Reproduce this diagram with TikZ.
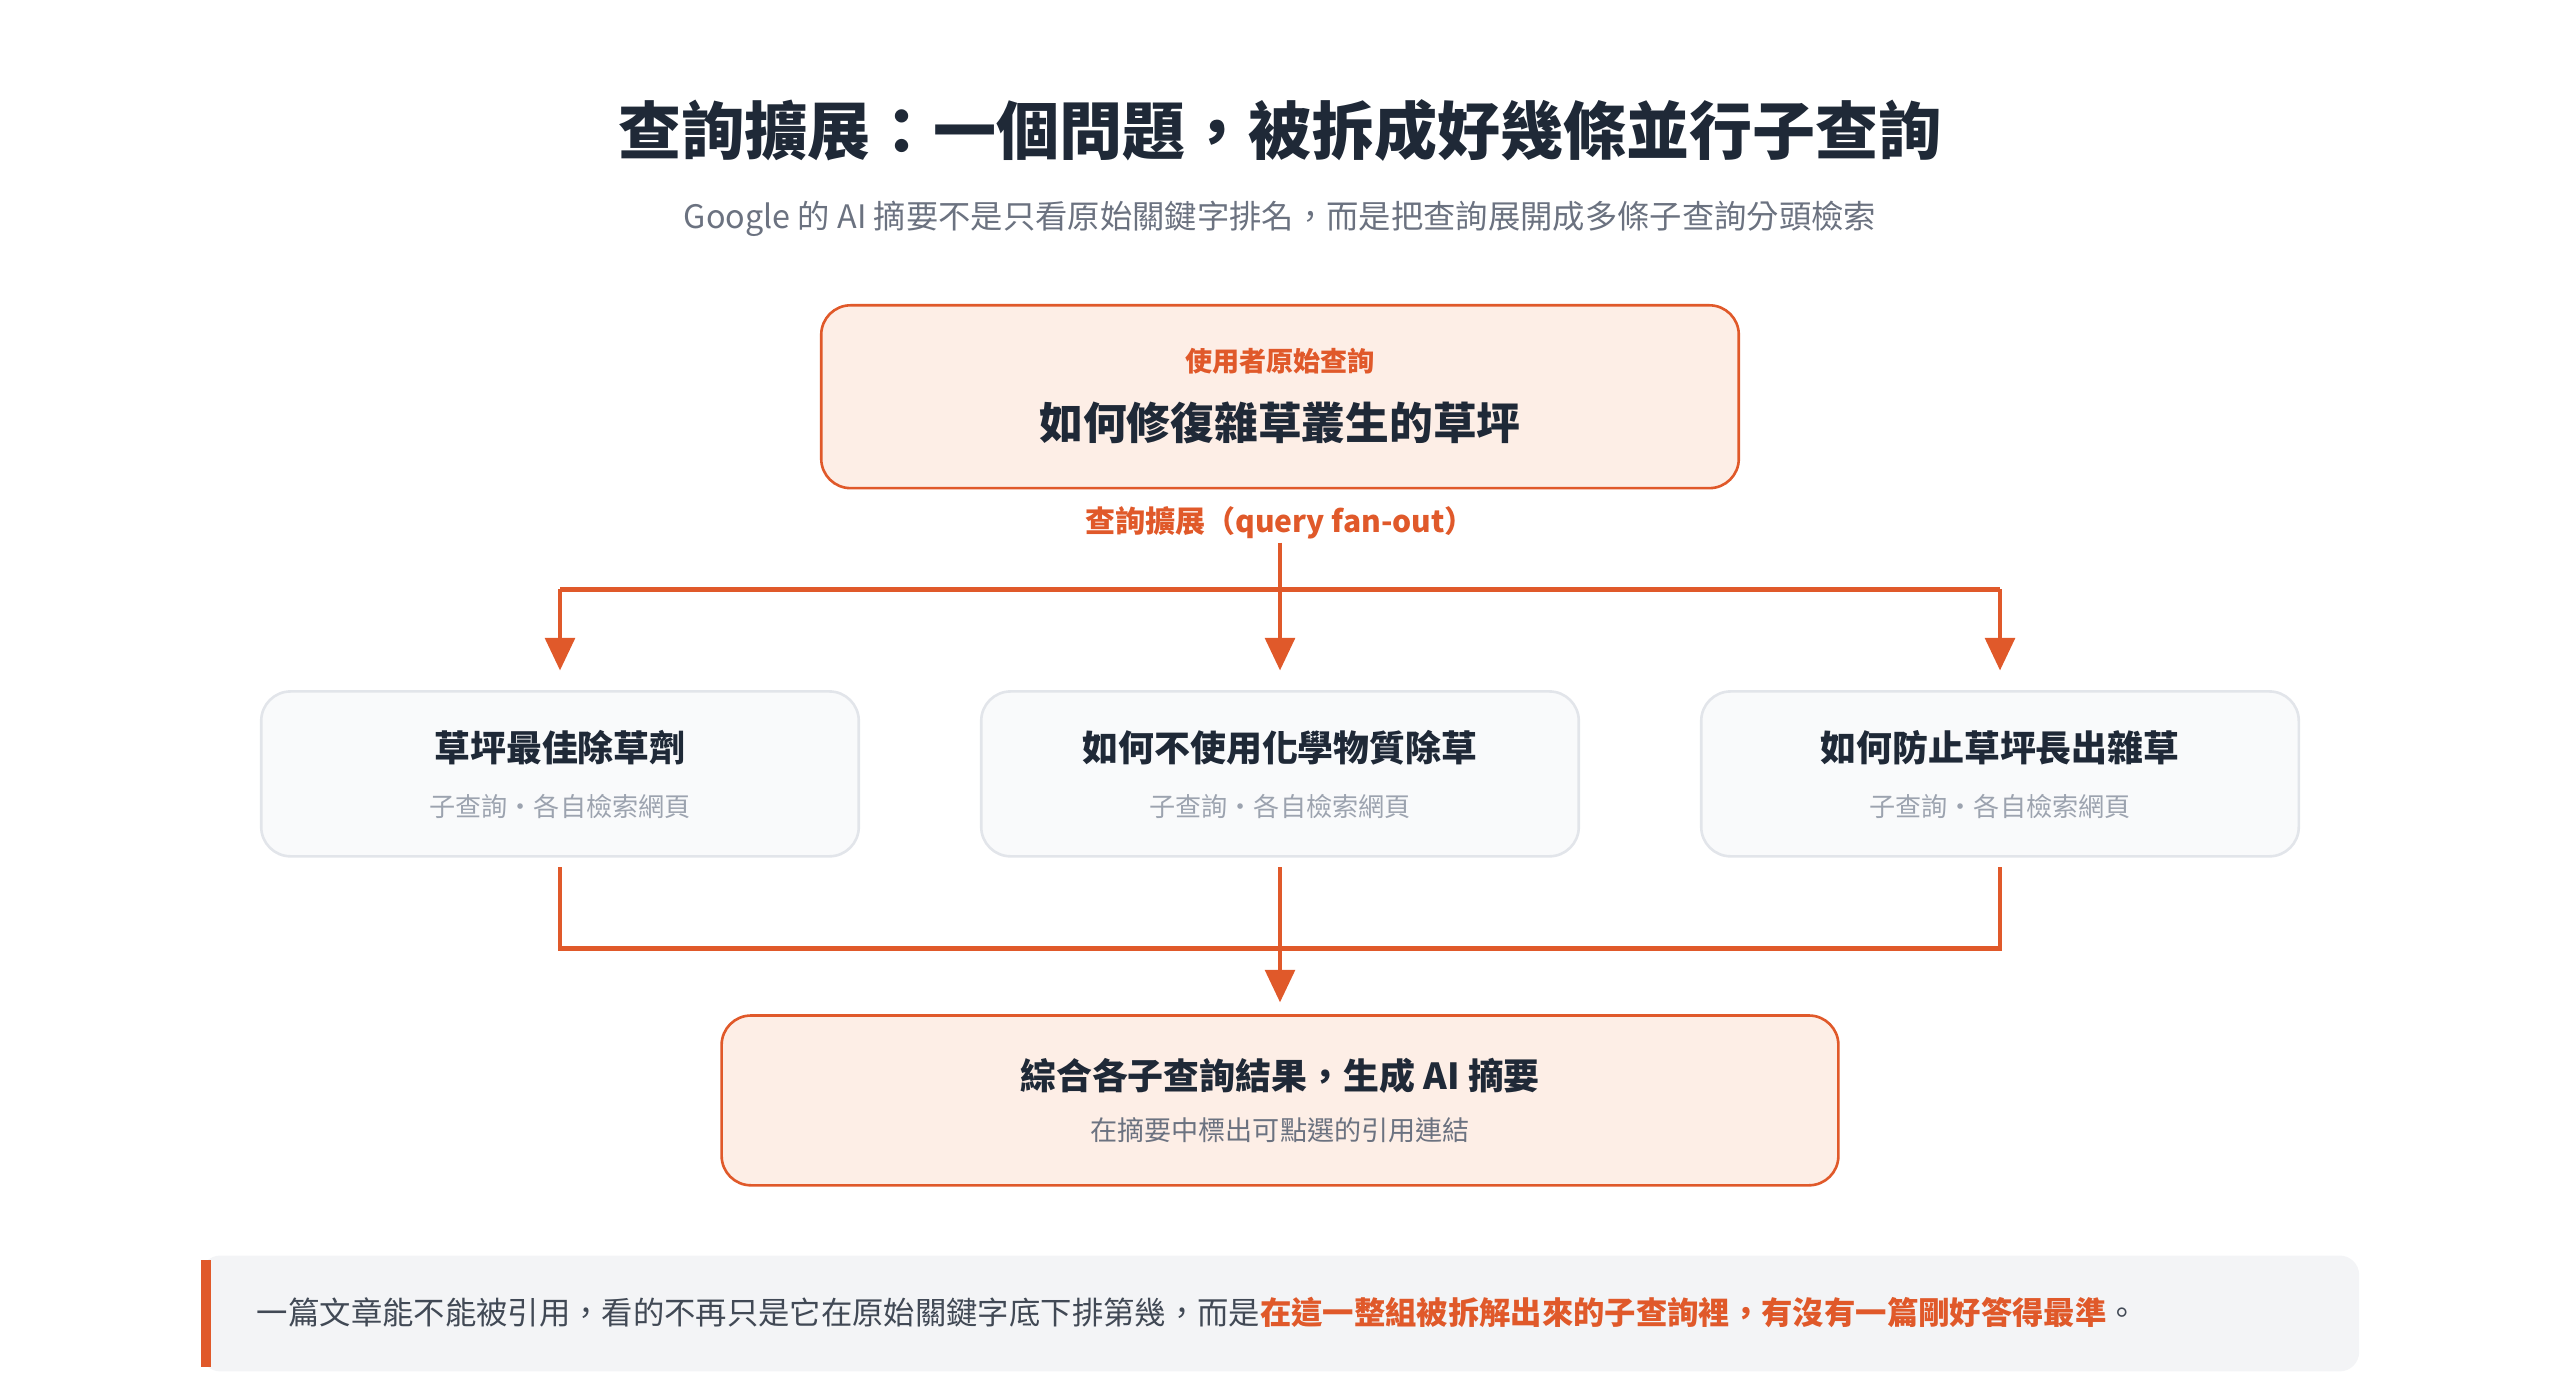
\documentclass[tikz,border=0pt]{standalone}
\usepackage{fontspec}
\setmainfont{Noto Sans CJK TC}
\usetikzlibrary{arrows.meta,positioning}
\definecolor{ink}{HTML}{1F2937}
\definecolor{mute}{HTML}{6B7280}
\definecolor{faint}{HTML}{9CA3AF}
\definecolor{accent}{HTML}{E0592A}
\definecolor{peach}{HTML}{FDEEE6}
\definecolor{card}{HTML}{F9FAFB}
\definecolor{cardline}{HTML}{E2E5EA}
\definecolor{note}{HTML}{F3F4F6}
\tikzset{
  hot/.style={draw=accent,fill=peach,line width=0.8pt,rounded corners=9pt},
  sub/.style={draw=cardline,fill=card,line width=0.8pt,rounded corners=9pt,minimum width=183pt,minimum height=50.5pt},
  flow/.style={accent,line width=1.5pt},
  tip/.style={flow,-{Triangle[length=10pt,width=9pt]}},
}
\begin{document}
\begin{tikzpicture}[x=0.5pt,y=0.5pt,yscale=-1]
\useasboundingbox (0,0) rectangle (1568,855);

% heading
\node (title) at (784,80) {\fontsize{19.3pt}{21pt}\selectfont\bfseries\color{ink}查詢擴展：一個問題，被拆成好幾條並行子查詢};
\node (lead) at (784,134) {\fontsize{9.9pt}{11pt}\selectfont\color{mute}Google 的 AI 摘要不是只看原始關鍵字排名，而是把查詢展開成多條子查詢分頭檢索};

% original query
\draw[hot] (503,187) rectangle (1065,299);
\node (qtag) at (784,221) {\fontsize{8.3pt}{9pt}\selectfont\bfseries\color{accent}使用者原始查詢};
\node (query) at (784,259) {\fontsize{13.4pt}{15pt}\selectfont\bfseries\color{ink}如何修復雜草叢生的草坪};
\node[inner sep=1pt] (fan) at (784,320) {\fontsize{9.2pt}{10pt}\selectfont\bfseries\color{accent}查詢擴展（query fan-out）};

% sub queries
\node[sub] (s1) at (343,474) {};
\node[sub] (s2) at (784,474) {};
\node[sub] (s3) at (1225,474) {};
\foreach \n/\t in {s1/草坪最佳除草劑,s2/如何不使用化學物質除草,s3/如何防止草坪長出雜草}{
  \node at ([yshift=-8pt]\n.center) {\fontsize{11pt}{12pt}\selectfont\bfseries\color{ink}\t};
  \node at ([yshift=10pt]\n.center) {\fontsize{8pt}{9pt}\selectfont\color{faint}子查詢・各自檢索網頁};
}

% merge
\draw[hot] (442,622) rectangle (1126,726);
\node (merge) at (784,659) {\fontsize{11pt}{12pt}\selectfont\bfseries\color{ink}綜合各子查詢結果，生成 AI 摘要};
\node (cite) at (784,692) {\fontsize{8.3pt}{9pt}\selectfont\color{mute}在摘要中標出可點選的引用連結};
\coordinate (mtop) at (784,614);

% fan-out and fan-in
\coordinate (split) at (784,361);
\coordinate (join) at (784,581);
\draw[flow] (fan.south) -- (split);
\draw[flow] (343,361) -- (1225,361);
\draw[tip] (split) -- ([yshift=-6pt]s2.north);
\draw[tip] (343,361) -- ([yshift=-6pt]s1.north);
\draw[tip] (1225,361) -- ([yshift=-6pt]s3.north);
\draw[flow] ([yshift=3pt]s1.south) |- (join);
\draw[flow] ([yshift=3pt]s3.south) |- (join);
\draw[flow] ([yshift=3pt]s2.south) -- (join);
\draw[tip] (join) -- (mtop);

% takeaway
\fill[note,rounded corners=6pt] (123,769) rectangle (1445,840);
\fill[accent] (123,772) rectangle (129,837);
\node[anchor=west,inner sep=0pt] (take) at (157,804) {\fontsize{9.6pt}{11pt}\selectfont\color{ink!85}一篇文章能不能被引用，看的不再只是它在原始關鍵字底下排第幾，而是{\bfseries\color{accent}在這一整組被拆解出來的子查詢裡，有沒有一篇剛好答得最準}。};
\end{tikzpicture}
\end{document}
